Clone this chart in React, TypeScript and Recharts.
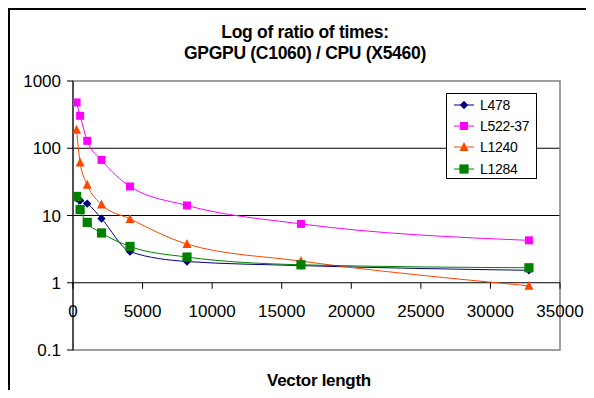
import React from 'react';
import {
  LineChart, Line, XAxis, YAxis, CartesianGrid, ReferenceLine, ReferenceDot, ReferenceArea
} from 'recharts';

const vectorLengths = [256, 512, 1024, 2048, 4096, 8192, 16384, 32768];
const l478 = [18, 16.7, 15, 9.0, 2.9, 2.07, 1.8, 1.53];
const l522 = [480, 304, 129, 67, 27, 14.1, 7.5, 4.27];
const l1240 = [188, 61.5, 28.7, 14.6, 8.9, 3.76, 2.1, 0.9];
const l1284 = [19.2, 12.2, 7.9, 5.5, 3.47, 2.41, 1.85, 1.67];
const xTicks = [0, 5000, 10000, 15000, 20000, 25000, 30000, 35000];
const yTicks = [0.1, 1, 10, 100, 1000];

const FONT = '"Liberation Sans", Arial, sans-serif';

type Kind = 'diamond' | 'square' | 'triangle' | 'bigsquare';

const series: { key: string; name: string; color: string; kind: Kind }[] = [
  { key: 'l478', name: 'L478', color: '#000080', kind: 'diamond' },
  { key: 'l522', name: 'L522-37', color: '#FF00FF', kind: 'square' },
  { key: 'l1240', name: 'L1240', color: '#FF4500', kind: 'triangle' },
  { key: 'l1284', name: 'L1284', color: '#008000', kind: 'bigsquare' },
];

const data = vectorLengths.map((x, i) => ({
  x,
  l478: l478[i],
  l522: l522[i],
  l1240: l1240[i],
  l1284: l1284[i],
}));

const Marker = ({ cx, cy, kind, color }: { cx: number; cy: number; kind: Kind; color: string }) => {
  if (kind === 'diamond') {
    const s = 4.2;
    return <path d={`M${cx},${cy - s}L${cx + s},${cy}L${cx},${cy + s}L${cx - s},${cy}Z`} fill={color} />;
  }
  if (kind === 'triangle') {
    return <path d={`M${cx},${cy - 5}L${cx + 4.5},${cy + 4}L${cx - 4.5},${cy + 4}Z`} fill={color} />;
  }
  const s = kind === 'bigsquare' ? 4.6 : 4;
  return <rect x={cx - s} y={cy - s} width={s * 2} height={s * 2} fill={color} />;
};

const makeDot = (kind: Kind, color: string) => (props: any) => {
  const { cx, cy, index } = props;
  if (cx == null || cy == null) return <g key={index} />;
  return <Marker key={index} cx={cx} cy={cy} kind={kind} color={color} />;
};

const XTick = (v: number) => (props: any) => (
  <g>
    <line x1={props.cx} y1={props.cy} x2={props.cx} y2={props.cy + 6} stroke="#000" />
    <text x={props.cx} y={props.cy + 34} textAnchor="middle" fontSize={17} fontFamily={FONT} fill="#000">
      {v}
    </text>
  </g>
);

const LegendBox = () => (
  <div
    style={{
      position: 'absolute', left: 438, top: 85, width: 91, height: 86, boxSizing: 'border-box',
      border: '1px solid #000', background: '#fff', fontFamily: FONT, fontSize: 14, paddingTop: 0,
    }}
  >
    {series.map((s) => (
      <div key={s.key} style={{ display: 'flex', alignItems: 'center', height: 21.4 }}>
        <svg width={30} height={14} style={{ marginLeft: 5 }}>
          <line x1={2} y1={7} x2={22} y2={7} stroke={s.color} />
          <Marker cx={12} cy={7} kind={s.kind} color={s.color} />
        </svg>
        <span style={{ marginLeft: -2, letterSpacing: -0.3 }}>{s.name}</span>
      </div>
    ))}
  </div>
);

export default function App() {
  return (
    <div style={{ position: 'relative', width: 586, height: 382 }}>
      <div
        style={{
          position: 'absolute', left: 0, top: 0, width: 586, height: 390, boxSizing: 'border-box',
          borderLeft: '2px solid #000', borderTop: '2px solid #000',
        }}
      />
      <div
        style={{
          position: 'absolute', left: 97, top: 14, width: 400, textAlign: 'center', fontFamily: FONT,
          fontWeight: 'bold', fontSize: 17.5, lineHeight: '21px', letterSpacing: -0.3, color: '#000',
        }}
      >
        <div>Log of ratio of times:</div>
        <div>GPGPU (C1060) / CPU (X5460)</div>
      </div>
      <div style={{ position: 'absolute', left: 0, top: 0 }}>
        <LineChart width={586} height={382} data={data} margin={{ top: 73, right: 34, bottom: 40, left: 0 }}>
          <CartesianGrid horizontal vertical={false} horizontalValues={[10, 100]} stroke="#000" strokeDasharray="" />
          <ReferenceArea x1={0} x2={35000} y1={0.1} y2={1000} fill="none" stroke="#808080" strokeWidth={1.5} ifOverflow="visible" />
          <XAxis dataKey="x" type="number" domain={[0, 35000]} ticks={xTicks} hide allowDataOverflow />
          <YAxis
            type="number"
            scale="log"
            domain={[0.1, 1000]}
            ticks={yTicks}
            allowDataOverflow
            width={65}
            tickSize={6}
            tickMargin={6}
            axisLine={{ stroke: '#000' }}
            tickLine={{ stroke: '#000' }}
            tick={{ fill: '#000', fontSize: 17, fontFamily: FONT }}
            tickFormatter={(v: number) => String(v)}
          />
          <ReferenceLine y={1} stroke="#000" />
          {xTicks.map((v) => (
            <ReferenceDot key={v} x={v} y={1} r={0} ifOverflow="visible" shape={XTick(v)} />
          ))}
          {series.map((s) => (
            <Line
              key={s.key}
              type="monotone"
              dataKey={s.key}
              name={s.name}
              stroke={s.color}
              strokeWidth={1}
              dot={makeDot(s.kind, s.color)}
              activeDot={false}
              isAnimationActive={false}
            />
          ))}
        </LineChart>
      </div>
      <LegendBox />
      <div
        style={{
          position: 'absolute', left: 211, top: 362, width: 200, textAlign: 'center', fontFamily: FONT,
          fontWeight: 'bold', fontSize: 17, lineHeight: '21px', letterSpacing: -0.3, color: '#000',
        }}
      >
        Vector length
      </div>
    </div>
  );
}
